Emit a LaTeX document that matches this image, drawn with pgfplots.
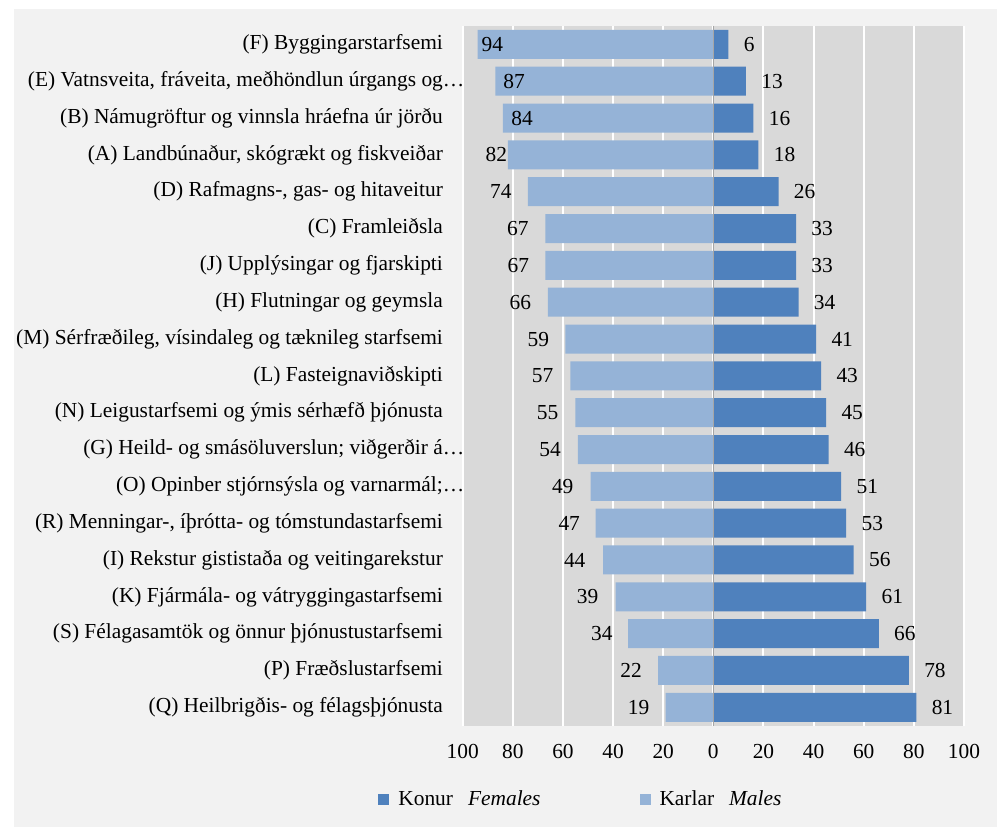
\documentclass[border=0pt]{standalone}
\usepackage{fontspec}
\setmainfont{Liberation Serif}
\usepackage{pgfplots}
\usepackage{pgfplotstable}
\pgfplotsset{compat=1.18}

\definecolor{femc}{HTML}{4F81BD}
\definecolor{malec}{HTML}{95B3D7}
\definecolor{plotbg}{HTML}{D9D9D9}
\definecolor{outerbg}{HTML}{F2F2F2}
\definecolor{zeroline}{HTML}{A6A6A6}

% idx: row from top, m: karlar, f: konur, labx: where the karlar label sits
\pgfplotstableread{
idx m  f  labx
0   94 6  -88.2
1   87 13 -79.5
2   84 16 -76.3
3   82 18 -86.6
4   74 26 -84.8
5   67 33 -78.0
6   67 33 -77.8
7   66 34 -77.0
8   59 41 -69.8
9   57 43 -68.1
10  55 45 -66.1
11  54 46 -65.1
12  49 51 -60.1
13  47 53 -57.5
14  44 56 -55.3
15  39 61 -50.2
16  34 66 -44.5
17  22 78 -32.8
18  19 81 -29.8
}\datatable

\newcommand{\chartfont}{\fontsize{10.7bp}{12.5bp}\selectfont}

\begin{document}
\begin{tikzpicture}[font=\chartfont]
\useasboundingbox (-231.35bp,-50.65bp) rectangle (269.65bp,362.85bp);
\fill[outerbg] (-224.35bp,-50.65bp) rectangle (267.15bp,358.35bp);
\begin{axis}[
    at={(0,0)}, anchor=south west,
    scale only axis,
    width=250.65bp, height=349.85bp,
    xmin=-100, xmax=100,
    ymin=-0.5, ymax=18.5,
    y dir=reverse,
    axis line style={draw=none},
    axis background/.style={fill=plotbg},
    major tick length=0pt,
    xmajorgrids,
    grid style={white, line width=1bp},
    xtick={-100,-80,...,100},
    xticklabels={100,80,60,40,20,0,20,40,60,80,100},
    xticklabel style={anchor=center, inner sep=0pt, yshift=-12.75bp, font=\chartfont},
    ytick={0,...,18},
    yticklabels={
        (F) Byggingarstarfsemi,
        (E) Vatnsveita{,} fráveita{,} meðhöndlun úrgangs og\rlap{…},
        (B) Námugröftur og vinnsla hráefna úr jörðu,
        (A) Landbúnaður{,} skógrækt og fiskveiðar,
        (D) Rafmagns-{,} gas- og hitaveitur,
        (C) Framleiðsla,
        (J) Upplýsingar og fjarskipti,
        (H) Flutningar og geymsla,
        (M) Sérfræðileg{,} vísindaleg og tæknileg starfsemi,
        (L) Fasteignaviðskipti,
        (N) Leigustarfsemi og ýmis sérhæfð þjónusta,
        (G) Heild- og smásöluverslun; viðgerðir á\rlap{…},
        (O) Opinber stjórnsýsla og varnarmál;\rlap{…},
        (R) Menningar-{,} íþrótta- og tómstundastarfsemi,
        (I) Rekstur gististaða og veitingarekstur,
        (K) Fjármála- og vátryggingastarfsemi,
        (S) Félagasamtök og önnur þjónustustarfsemi,
        (P) Fræðslustarfsemi,
        (Q) Heilbrigðis- og félagsþjónusta},
    yticklabel style={anchor=east, inner sep=0pt, xshift=-9.7bp, font=\chartfont},
    /pgf/number format/assume math mode=true,
    legend columns=2,
    legend style={at={(-0.169,-0.1052)}, anchor=west, draw=none, fill=none,
        font=\chartfont, inner sep=0pt,
        /tikz/every odd column/.append style={column sep=2.5bp},
        /tikz/every even column/.append style={column sep=47.5bp}},
    legend cell align=left,
    legend image code/.code={\fill[#1] (0bp,-2.75bp) rectangle (5.5bp,2.75bp);},
]
\addplot[xbar, bar width=14.5bp, bar shift=0pt, fill=femc, draw=none,
    nodes near coords,
    nodes near coords style={anchor=west, inner sep=0pt, xshift=7.5bp, font=\chartfont, text=black}]
    table[x=f, y=idx] {\datatable};
\addlegendentry{Konur\hspace{7.5bp}\textit{Females}}
\addplot[xbar, bar width=14.5bp, bar shift=0pt, fill=malec, draw=none]
    table[x expr=-\thisrow{m}, y=idx] {\datatable};
\addlegendentry{Karlar\hspace{7.5bp}\textit{Males}}
\addplot[forget plot, only marks, mark=*, mark size=0pt, mark options={draw=none, fill=none},
    point meta=explicit,
    nodes near coords,
    nodes near coords style={anchor=center, inner sep=0pt, font=\chartfont, text=black}]
    table[x=labx, y=idx, meta=m] {\datatable};
\draw[zeroline, line width=0.5bp] (axis cs:0,-0.5) -- (axis cs:0,18.5);
\end{axis}
\end{tikzpicture}
\end{document}
